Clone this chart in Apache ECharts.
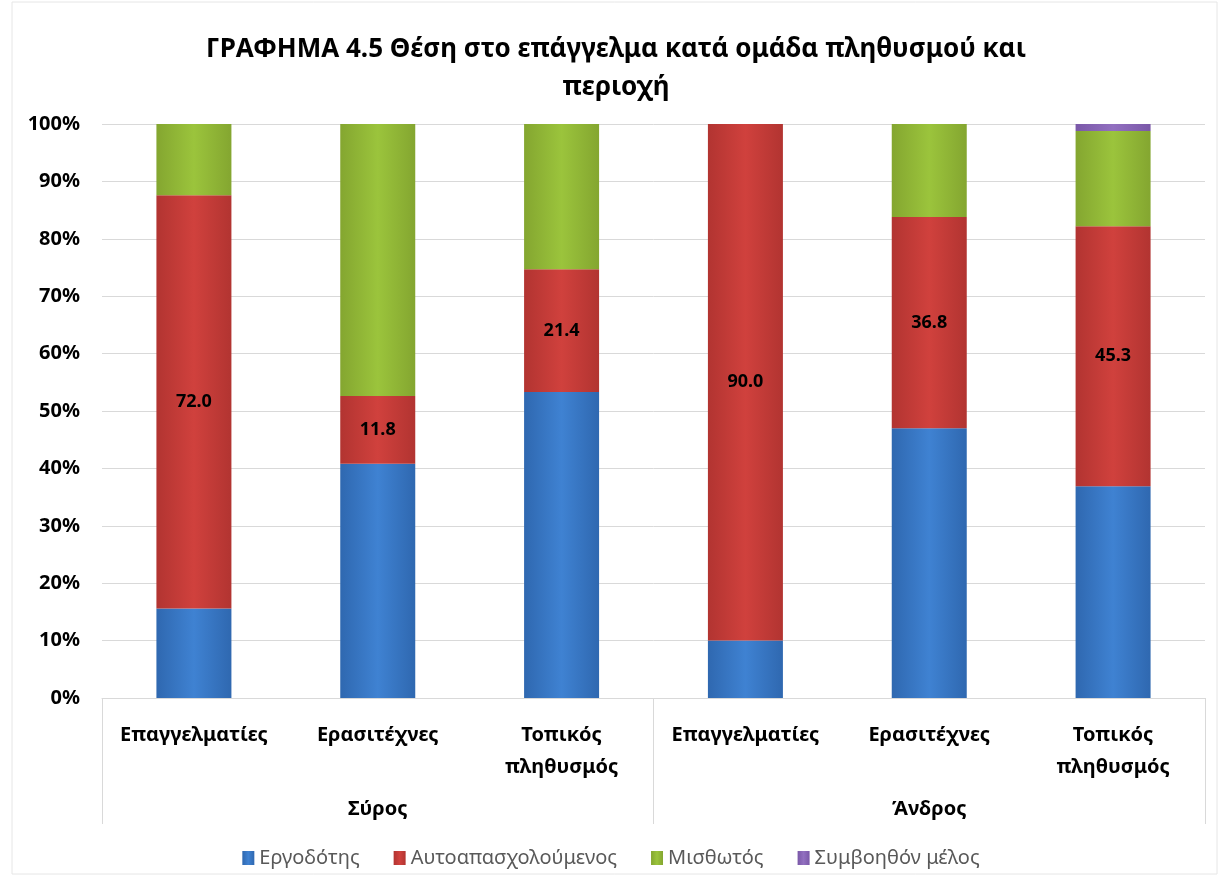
<!DOCTYPE html>
<html>
<head>
<meta charset="utf-8">
<script src="https://cdn.jsdelivr.net/npm/echarts@6/dist/echarts.min.js"></script>
<style>
  html, body { margin: 0; padding: 0; background: #fff; }
  #chart { width: 1222px; height: 878px; }
</style>
</head>
<body>
<div id="chart"></div>
<script>
  // categories and groups
  var categories = ['Επαγγελματίες', 'Ερασιτέχνες', 'Τοπικός\nπληθυσμός', 'Επαγγελματίες', 'Ερασιτέχνες', 'Τοπικός\nπληθυσμός'];
  var groups = ['Σύρος', 'Άνδρος'];
  var yTicks = [0, 10, 20, 30, 40, 50, 60, 70, 80, 90, 100];

  // values (%)
  var employer = [15.6, 40.8, 53.3, 10.0, 47.0, 36.9];      // Εργοδότης
  var selfEmployed = [72.0, 11.8, 21.4, 90.0, 36.8, 45.3];  // Αυτοαπασχολούμενος
  var salaried = [12.4, 47.4, 25.3, 0, 16.2, 16.6];         // Μισθωτός
  var family = [0, 0, 0, 0, 0, 1.2];                        // Συμβοηθόν μέλος

  var font = '"Noto Sans", "DejaVu Sans", sans-serif';

  function grad(c1, c2, c3) {
    return new echarts.graphic.LinearGradient(0, 0, 1, 0, [
      {offset: 0, color: c1},
      {offset: 0.5, color: c2},
      {offset: 1, color: c3}
    ]);
  }

  var chart = echarts.init(document.getElementById('chart'));

  var option = {
    backgroundColor: '#fff',
    animation: false,
    textStyle: {fontFamily: font},
    title: {
      text: 'ΓΡΑΦΗΜΑ 4.5 Θέση στο επάγγελμα κατά ομάδα πληθυσμού και\nπεριοχή',
      left: 611,
      top: 26,
      textAlign: 'center',
      textStyle: {fontSize: 26, fontWeight: 'bold', color: '#000', lineHeight: 38, fontFamily: font}
    },
    legend: {
      bottom: 5,
      left: 'center',
      icon: 'rect',
      itemWidth: 12,
      itemHeight: 14,
      itemGap: 34,
      textStyle: {fontSize: 20, color: '#595959', fontFamily: font},
      data: ['Εργοδότης', 'Αυτοαπασχολούμενος', 'Μισθωτός', 'Συμβοηθόν μέλος']
    },
    grid: {left: 102, right: 17, top: 124, bottom: 180},
    xAxis: [
      {
        type: 'category',
        data: categories,
        axisLine: {show: true, lineStyle: {color: '#d9d9d9'}},
        axisTick: {show: false},
        axisLabel: {
          margin: 21, fontSize: 20, fontWeight: 'bold', color: '#000',
          lineHeight: 32, fontFamily: font, interval: 0
        }
      },
      {
        type: 'category',
        position: 'bottom',
        data: groups,
        axisLine: {show: false},
        axisTick: {show: true, length: 126, inside: false, lineStyle: {color: '#d9d9d9'}},
        axisLabel: {margin: 101, fontSize: 20, fontWeight: 'bold', color: '#000', fontFamily: font}
      }
    ],
    yAxis: {
      type: 'value',
      min: 0,
      max: 100,
      interval: 10,
      axisLine: {show: false},
      axisTick: {show: false},
      splitLine: {lineStyle: {color: '#d9d9d9'}},
      axisLabel: {
        margin: 22, fontSize: 20, fontWeight: 'bold', color: '#000', fontFamily: font,
        formatter: function (v) { return yTicks.indexOf(v) >= 0 ? v + '%' : ''; }
      }
    },
    series: [
      {
        name: 'Εργοδότης', type: 'bar', stack: 'a', barWidth: 75, data: employer,
        itemStyle: {color: grad('#2f68b0', '#3f82d2', '#2f68b0')}
      },
      {
        name: 'Αυτοαπασχολούμενος', type: 'bar', stack: 'a', barWidth: 75, data: selfEmployed,
        itemStyle: {color: grad('#b23431', '#d0413d', '#b23431')},
        label: {
          show: true, position: 'inside', fontSize: 18, fontWeight: 'bold', color: '#000', fontFamily: font,
          formatter: function (p) { return p.value.toFixed(1); }
        }
      },
      {
        name: 'Μισθωτός', type: 'bar', stack: 'a', barWidth: 75, data: salaried,
        itemStyle: {color: grad('#84a630', '#9bc43c', '#84a630')}
      },
      {
        name: 'Συμβοηθόν μέλος', type: 'bar', stack: 'a', barWidth: 75, data: family,
        itemStyle: {color: grad('#7a58a8', '#9270c0', '#7a58a8')}
      }
    ],
    graphic: [
      {
        type: 'rect',
        shape: {x: 12, y: 2, width: 1205, height: 872},
        style: {fill: 'none', stroke: '#e6e6e6', lineWidth: 1},
        silent: true
      }
    ]
  };

  chart.setOption(option);
</script>
</body>
</html>
